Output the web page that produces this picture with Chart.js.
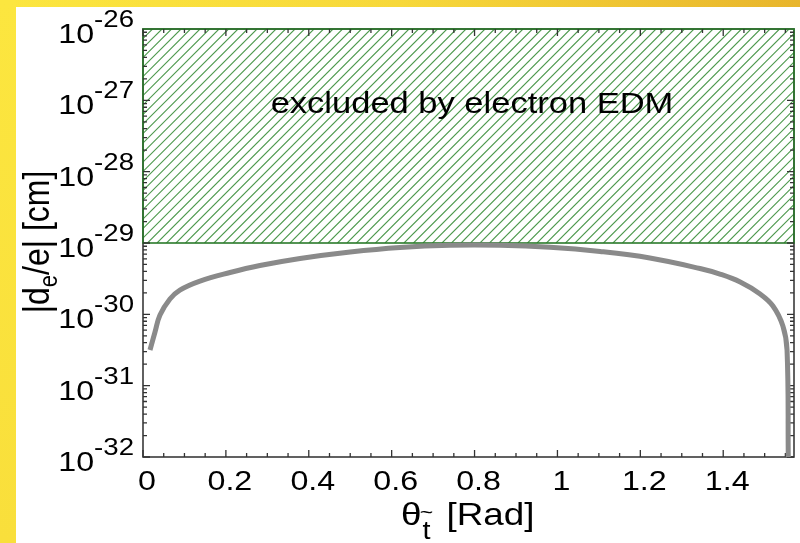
<!DOCTYPE html>
<html>
<head>
<meta charset="utf-8">
<script src="https://cdn.jsdelivr.net/npm/chart.js@4"></script>
<style>
  html, body { margin: 0; padding: 0; background: #fff; }
  canvas { display: block; }
</style>
</head>
<body>
<canvas id="edmChart" width="800" height="543"></canvas>
<script>
// stop mixing angle (rad) and the resulting electron EDM |d_e/e| (cm)
const theta = [0.0169, 0.029, 0.041, 0.065, 0.089, 0.1375, 0.21, 0.282, 0.379, 0.50, 0.62, 0.741,
  0.861, 0.982, 1.103, 1.223, 1.344, 1.392, 1.441, 1.489, 1.52, 1.544, 1.554, 1.557];
const dEdm = [3.16e-31, 5.65e-31, 9.77e-31, 1.64e-30, 2.19e-30, 2.93e-30, 3.86e-30, 4.83e-30, 6.07e-30, 7.48e-30, 8.65e-30, 9.29e-30,
  9.29e-30, 8.71e-30, 7.6e-30, 6.16e-30, 4.39e-30, 3.67e-30, 2.84e-30, 1.93e-30, 1.31e-30, 6.86e-31, 3.16e-31, 1e-32];

const xMajorTicks = [0, 0.2, 0.4, 0.6, 0.8, 1, 1.2, 1.4];
const xTickLabels = ['0', '0.2', '0.4', '0.6', '0.8', '1', '1.2', '1.4'];
const yExponents = [-26, -27, -28, -29, -30, -31, -32];

// band already ruled out by the electron EDM bound
const excludedFrom = 1e-29;
const excludedTo = 1e-26;

const FONT = '"Liberation Sans", Arial, Helvetica, sans-serif';
const SX = 1.15; // glyphs are drawn a little wide

function textWidth(ctx, str, size) {
  ctx.font = size + 'px ' + FONT;
  return ctx.measureText(str).width * SX;
}

function drawText(ctx, str, x, y, size, align) {
  ctx.save();
  ctx.translate(x, y);
  ctx.scale(SX, 1);
  ctx.font = size + 'px ' + FONT;
  ctx.textAlign = align || 'left';
  ctx.textBaseline = 'alphabetic';
  ctx.fillStyle = '#000';
  ctx.fillText(str, 0, 0);
  ctx.restore();
}

const backdrop = {
  id: 'backdrop',
  beforeDraw(chart) {
    const ctx = chart.ctx;
    ctx.save();
    ctx.fillStyle = '#fff';
    ctx.fillRect(0, 0, chart.width, chart.height);
    const top = ctx.createLinearGradient(0, 0, chart.width, 0);
    top.addColorStop(0, '#fce63f');
    top.addColorStop(0.5, '#f7d83a');
    top.addColorStop(1, '#e8b52c');
    ctx.fillStyle = top;
    ctx.fillRect(0, 0, chart.width, 7);
    const side = ctx.createLinearGradient(0, 0, 0, chart.height);
    side.addColorStop(0, '#fce63f');
    side.addColorStop(1, '#f9df3b');
    ctx.fillStyle = side;
    ctx.fillRect(0, 0, 16, chart.height);
    ctx.restore();
  }
};

const frame = {
  id: 'frame',
  beforeDatasetsDraw(chart) {
    const ctx = chart.ctx;
    const xs = chart.scales.x, ys = chart.scales.y;
    const a = chart.chartArea;
    const hTop = ys.getPixelForValue(excludedTo);
    const hBot = ys.getPixelForValue(excludedFrom);

    // hatched exclusion band
    ctx.save();
    ctx.beginPath();
    ctx.rect(a.left, hTop, a.right - a.left, hBot - hTop);
    ctx.clip();
    ctx.strokeStyle = '#4f9a4f';
    ctx.lineWidth = 1.1;
    const h = hBot - hTop;
    ctx.beginPath();
    for (let s = a.left - h; s < a.right + 10; s += 9.5) {
      ctx.moveTo(s, hBot);
      ctx.lineTo(s + h, hTop);
    }
    ctx.stroke();
    ctx.restore();

    // axes box
    ctx.save();
    ctx.strokeStyle = '#3a3a3a';
    ctx.lineWidth = 1.6;
    ctx.strokeRect(a.left, a.top, a.right - a.left, a.bottom - a.top);
    ctx.strokeStyle = '#2a7a2a';
    ctx.strokeRect(a.left, hTop, a.right - a.left, hBot - hTop);

    // inward ticks on all four sides
    ctx.strokeStyle = '#333';
    ctx.lineWidth = 1.3;
    ctx.beginPath();
    for (let v = 0; v <= 1.56; v += 0.05) {
      const px = xs.getPixelForValue(v);
      const major = Math.abs(v / 0.2 - Math.round(v / 0.2)) < 1e-6;
      const len = major ? 7 : 4;
      ctx.moveTo(px, a.bottom); ctx.lineTo(px, a.bottom - len);
      ctx.moveTo(px, a.top); ctx.lineTo(px, a.top + len);
    }
    for (let e = -32; e < -26; e++) {
      for (let m = 1; m <= 9; m++) {
        const py = ys.getPixelForValue(m * Math.pow(10, e));
        const len = m === 1 ? 7 : 4;
        ctx.moveTo(a.left, py); ctx.lineTo(a.left + len, py);
        ctx.moveTo(a.right, py); ctx.lineTo(a.right - len, py);
      }
    }
    ctx.stroke();
    ctx.restore();
  },
  afterDraw(chart) {
    const ctx = chart.ctx;
    const xs = chart.scales.x, ys = chart.scales.y;
    const a = chart.chartArea;

    // x tick labels
    xMajorTicks.forEach((v, i) => {
      drawText(ctx, xTickLabels[i], xs.getPixelForValue(v) + 4, a.bottom + 33, 28, 'center');
    });

    // y tick labels as 10^n
    yExponents.forEach(e => {
      const py = ys.getPixelForValue(Math.pow(10, e));
      const expStr = String(e);
      const expW = textWidth(ctx, expStr, 24);
      const tenW = textWidth(ctx, '10', 28);
      const right = a.left - 9;
      drawText(ctx, '10', right - expW - tenW, py + 14, 28);
      drawText(ctx, expStr, right - expW, py - 2, 24);
    });

    // annotation inside the band
    drawText(ctx, 'excluded by electron EDM', 472, 113, 30, 'center');

    // x axis title: theta with stop-tilde subscript
    let cx = 401;
    drawText(ctx, 'θ', cx, 525, 32);
    cx += textWidth(ctx, 'θ', 32) + 1;
    const tW = textWidth(ctx, 't', 25);
    drawText(ctx, 't', cx, 539, 25);
    drawText(ctx, '~', cx + tW / 2, 519, 20, 'center');
    cx += tW + 16;
    drawText(ctx, '[Rad]', cx, 525, 32);

    // y axis title, rotated
    ctx.save();
    ctx.translate(49, 242);
    ctx.scale(SX, 1);
    ctx.rotate(-Math.PI / 2);
    ctx.fillStyle = '#000';
    ctx.textBaseline = 'alphabetic';
    const big = '32px ' + FONT, small = '22px ' + FONT;
    ctx.font = big;
    const w1 = ctx.measureText('|d').width;
    const w3 = ctx.measureText('/e| [cm]').width;
    ctx.font = small;
    const w2 = ctx.measureText('e').width;
    let lx = -(w1 + w2 + w3) / 2;
    ctx.font = big;
    ctx.fillText('|d', lx, 0);
    lx += w1;
    ctx.font = small;
    ctx.fillText('e', lx, 7);
    lx += w2;
    ctx.font = big;
    ctx.fillText('/e| [cm]', lx, 0);
    ctx.restore();
  }
};

new Chart(document.getElementById('edmChart'), {
  type: 'line',
  data: {
    datasets: [{
      data: theta.map((t, i) => ({ x: t, y: dEdm[i] })),
      borderColor: '#8a8a8a',
      borderWidth: 5,
      pointRadius: 0,
      tension: 0.4,
      fill: false
    }]
  },
  options: {
    responsive: false,
    animation: false,
    events: [],
    layout: { padding: { left: 143, top: 29, right: 6, bottom: 86 } },
    scales: {
      x: { type: 'linear', min: 0, max: 1.5708, display: false },
      y: { type: 'logarithmic', min: 1e-32, max: 1e-26, display: false }
    },
    plugins: { legend: { display: false }, tooltip: { enabled: false } }
  },
  plugins: [backdrop, frame]
});
</script>
</body>
</html>
